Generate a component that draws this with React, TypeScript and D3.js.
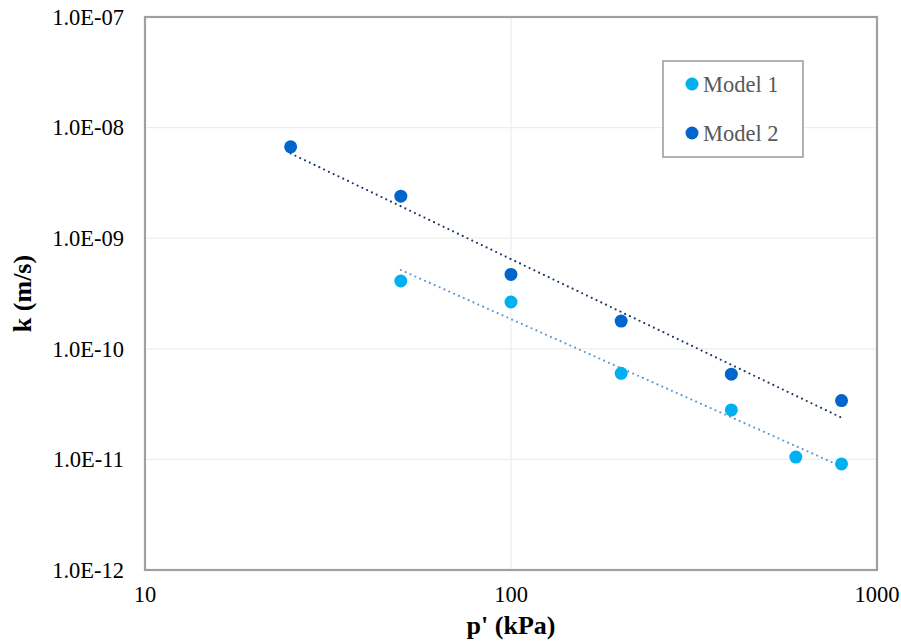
import React from "react";
import * as d3 from "d3";

// Confining stress p' (kPa) and permeability k (m/s)
const model1P = [50, 100, 200, 400, 600, 800];
const model1K = [4.1e-10, 2.65e-10, 6.0e-11, 2.8e-11, 1.05e-11, 9.1e-12];
const model2P = [25, 50, 100, 200, 400, 800];
const model2K = [6.7e-9, 2.4e-9, 4.7e-10, 1.78e-10, 5.9e-11, 3.4e-11];

const xTicks = [10, 100, 1000];
const yTicks = [1e-12, 1e-11, 1e-10, 1e-9, 1e-8, 1e-7];
const seriesNames = ["Model 1", "Model 2"];

const W = 901;
const H = 641;
const left = 145;
const right = 877;
const top = 17;
const bottom = 570;

const FONT = "'Liberation Serif', 'Times New Roman', serif";

// Power-law least squares fit in log-log space
function powerFit(xs: number[], ys: number[]) {
  const lx = xs.map(Math.log10);
  const ly = ys.map(Math.log10);
  const mx = d3.mean(lx)!;
  const my = d3.mean(ly)!;
  let sxy = 0;
  let sxx = 0;
  lx.forEach((v, i) => {
    sxy += (v - mx) * (ly[i] - my);
    sxx += (v - mx) * (v - mx);
  });
  const b = sxy / sxx;
  const a = my - b * mx;
  return (x: number) => Math.pow(10, a + b * Math.log10(x));
}

export default function App() {
  const x = d3.scaleLog().domain([10, 1000]).range([left, right]);
  const y = d3.scaleLog().domain([1e-12, 1e-7]).range([bottom, top]);

  const series = [
    { name: seriesNames[0], p: model1P, k: model1K, color: "#00B0F0", trend: "#5B9BD5" },
    { name: seriesNames[1], p: model2P, k: model2K, color: "#0066CC", trend: "#203864" },
  ];

  const fmt = (v: number) => {
    const e = Math.round(Math.log10(v));
    const s = Math.abs(e).toString().padStart(2, "0");
    return `1.0E${e < 0 ? "-" : "+"}${s}`;
  };

  return (
    <svg width={W} height={H} style={{ position: "absolute", left: 0, top: 0, background: "#fff" }}>
      <rect x={0} y={0} width={W} height={H} fill="#fff" />
      {/* grid */}
      {yTicks.map((t) => (
        <line key={"gy" + t} x1={left} x2={right} y1={y(t)} y2={y(t)} stroke="#EEEEEE" strokeWidth={1.3} />
      ))}
      {xTicks.map((t) => (
        <line key={"gx" + t} x1={x(t)} x2={x(t)} y1={top} y2={bottom} stroke="#EEEEEE" strokeWidth={1.3} />
      ))}
      {/* trend lines */}
      {series.map((s) => {
        const f = powerFit(s.p, s.k);
        const p0 = d3.min(s.p)!;
        const p1 = d3.max(s.p)!;
        return (
          <line
            key={"t" + s.name}
            x1={x(p0)}
            y1={y(f(p0))}
            x2={x(p1)}
            y2={y(f(p1))}
            stroke={s.trend}
            strokeWidth={2.2}
            strokeDasharray="0 5.3"
            strokeLinecap="round"
          />
        );
      })}
      {/* points */}
      {series.map((s) =>
        s.p.map((p, i) => (
          <circle key={s.name + i} cx={x(p)} cy={y(s.k[i])} r={6.5} fill={s.color} />
        ))
      )}
      {/* frame */}
      <rect x={left} y={top} width={right - left} height={bottom - top} fill="none" stroke="#A0A0A0" strokeWidth={2.2} />
      {/* y tick labels */}
      {yTicks.map((t) => (
        <text key={"yl" + t} x={124} y={y(t)} dy="0.35em" textAnchor="end" fontFamily={FONT} fontSize={22.5} fill="#000">
          {fmt(t)}
        </text>
      ))}
      {/* x tick labels */}
      {xTicks.map((t) => (
        <text key={"xl" + t} x={x(t)} y={602} textAnchor="middle" fontFamily={FONT} fontSize={22.5} fill="#000">
          {t}
        </text>
      ))}
      {/* axis titles */}
      <text x={x(100)} y={634} textAnchor="middle" fontFamily={FONT} fontSize={26} fontWeight="bold">
        p' (kPa)
      </text>
      <text
        transform={`translate(31, ${(top + bottom) / 2}) rotate(-90)`}
        textAnchor="middle"
        fontFamily={FONT}
        fontSize={26}
        fontWeight="bold"
      >
        k (m/s)
      </text>
      {/* legend */}
      <rect x={663} y={61} width={140} height={96} fill="#fff" stroke="#999" strokeWidth={1.5} />
      {series.map((s, i) => (
        <g key={"lg" + s.name}>
          <circle cx={692} cy={84 + i * 49} r={6.5} fill={s.color} />
          <text x={703} y={84 + i * 49} dy="0.35em" fontFamily={FONT} fontSize={22.5} fill="#595959">
            {s.name}
          </text>
        </g>
      ))}
    </svg>
  );
}
